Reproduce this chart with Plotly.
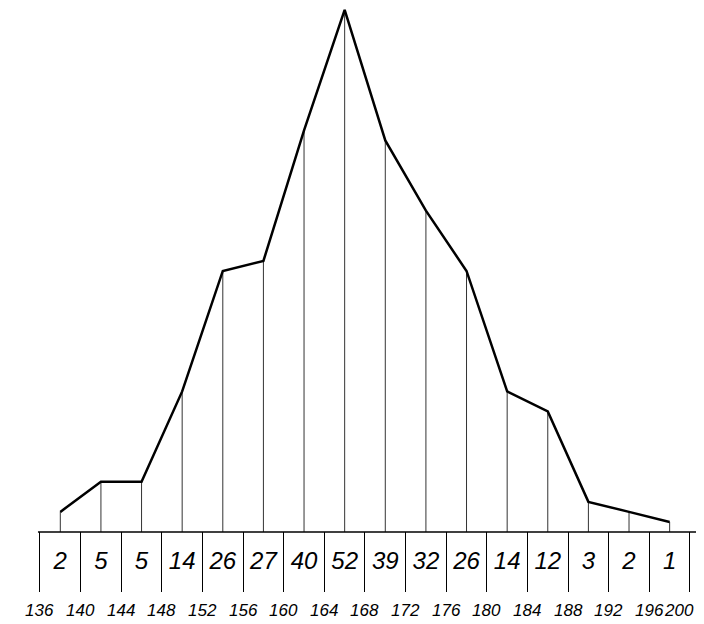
import plotly.graph_objects as go

# class boundaries (tick labels) and class counts
boundaries = [136, 140, 144, 148, 152, 156, 160, 164, 168, 172, 176, 180, 184, 188, 192, 196, 200]
counts = [2, 5, 5, 14, 26, 27, 40, 52, 39, 32, 26, 14, 12, 3, 2, 1]
midpoints = [(a + b) / 2 for a, b in zip(boundaries[:-1], boundaries[1:])]

hand_font = "Liberation Sans, Arial, sans-serif"

fig = go.Figure()

# thin vertical lines from each vertex down to the base line
vx, vy = [], []
for m, c in zip(midpoints, counts):
    vx += [m, m, None]
    vy += [0, c, None]
fig.add_trace(go.Scatter(x=vx, y=vy, mode="lines",
                         line=dict(color="#333333", width=1), hoverinfo="skip"))

# base line
fig.add_trace(go.Scatter(x=[boundaries[0] - 0.2, boundaries[-1] + 1.3], y=[0, 0], mode="lines",
                         line=dict(color="black", width=1.5), hoverinfo="skip"))

# frequency polygon
fig.add_trace(go.Scatter(x=midpoints, y=counts, mode="lines",
                         line=dict(color="black", width=2.5)))

# counts written in the boxes under the base line
fig.add_trace(go.Scatter(x=midpoints, y=[-3.1] * len(counts), mode="text",
                         text=[str(c) for c in counts],
                         textfont=dict(family=hand_font, size=24, color="black", style="italic"),
                         hoverinfo="skip"))

# boundary labels under the boxes (last one kept inside the page edge)
for i, b in enumerate(boundaries):
    last = i == len(boundaries) - 1
    fig.add_annotation(x=b + (0.6 if last else 0), y=-0.031, xref="x", yref="paper",
                       text=str(b), showarrow=False,
                       xanchor="right" if last else "center", yanchor="middle",
                       font=dict(family=hand_font, size=17, color="black", style="italic"))

fig.update_layout(
    width=704, height=624,
    margin=dict(l=0, r=0, t=0, b=40),
    paper_bgcolor="white", plot_bgcolor="white",
    showlegend=False,
    xaxis=dict(range=[132.85, 202.17], showgrid=False, zeroline=False, showline=False,
               tickvals=boundaries, showticklabels=False,
               ticks="inside", ticklen=60, tickwidth=1, tickcolor="black"),
    yaxis=dict(range=[-5.98, 52.19], showgrid=False, zeroline=False, showline=False,
               showticklabels=False, ticks=""),
)

fig.write_html("out.html")
